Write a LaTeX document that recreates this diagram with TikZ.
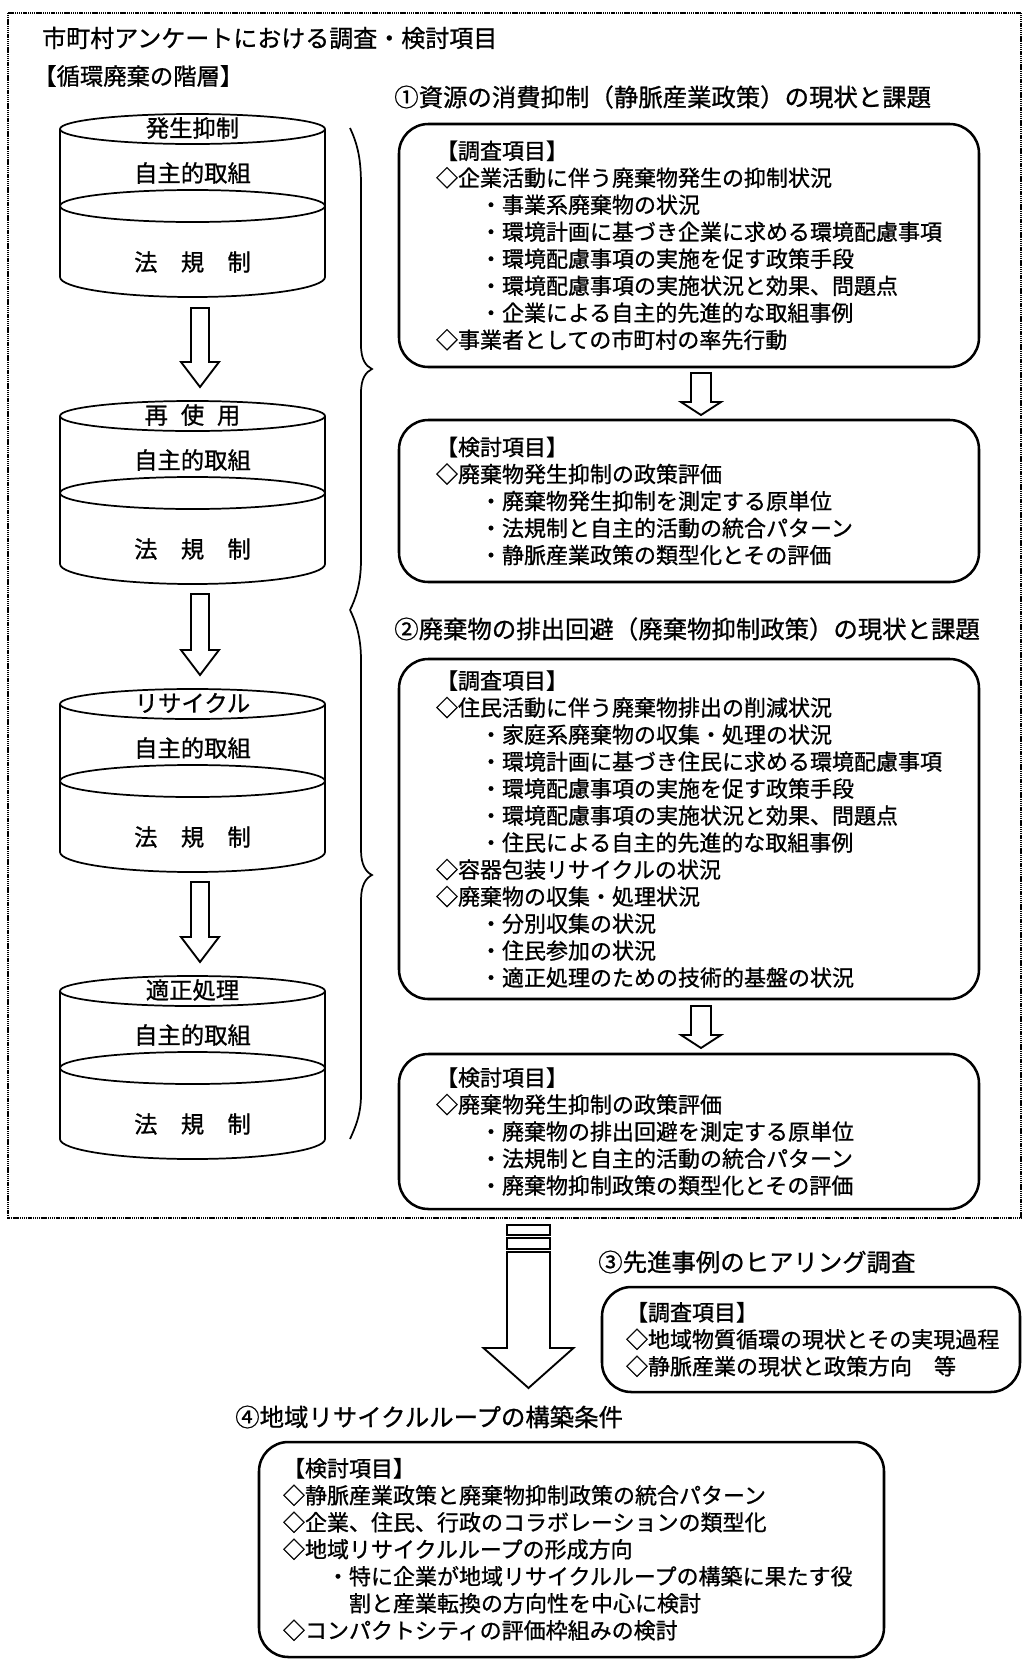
\documentclass[tikz,border=0pt]{standalone}
\usepackage{fontspec}
\setmainfont[FakeBold=0.9,AutoFakeBold=0.9]{Noto Sans CJK JP}
\newcommand{\myblockdn}[6]{%
  \draw[blk] ({#1-#5},#2) -- ({#1+#5},#2) -- ({#1+#5},#3) -- ({#1+#6},#3) -- (#1,#4) -- ({#1-#6},#3) -- ({#1-#5},#3) -- cycle;}
\begin{document}
\begin{tikzpicture}[x=0.75pt,y=-0.75pt,
  frame/.style={line width=0.9pt, dash pattern=on 0.9pt off 0.5pt},
  box/.style={draw, line width=1.9pt, rounded corners=22pt, inner sep=0pt},
  cylline/.style={line width=1.3pt},
  blk/.style={draw, line width=1.4pt, fill=white, line join=miter},
  hd/.style={font=\fontsize{18.3pt}{22pt}\selectfont\bfseries, inner sep=0pt, anchor=west},
  cyltxt/.style={font=\fontsize{17.5pt}{21pt}\selectfont\bfseries, inner sep=0pt},
  btxt/.style={font=\fontsize{16.5pt}{20.25pt}\selectfont\bfseries, inner sep=0pt, align=left, anchor=west},
  brace/.style={line width=1.3pt}
]
\useasboundingbox (0,0) rectangle (1025,1661);
\fill[white] (0,0) rectangle (1025,1661);

% outer dotted frame
\draw[frame] (8,13) rectangle (1021,1218);

% headings
\node[hd, font=\fontsize{18pt}{22pt}\selectfont\bfseries] (title) at (42,38) {市町村アンケートにおける調査・検討項目};
\node[hd, font=\fontsize{17.5pt}{21pt}\selectfont\bfseries] (hier) at (33,76) {【循環廃棄の階層】};
\node[hd] (h1) at (394,97) {①資源の消費抑制（静脈産業政策）の現状と課題};
\node[hd] (h2) at (394,629) {②廃棄物の排出回避（廃棄物抑制政策）の現状と課題};
\node[hd] (h3) at (598,1262) {③先進事例のヒアリング調査};
\node[hd] (h4) at (235,1417) {④地域リサイクルループの構築条件};

% cylinders
\foreach \T/\lab/\nm in {129/発生抑制/c1, 416/{再\hspace{0.55em}使\hspace{0.55em}用}/c2, 704/リサイクル/c3, 991/適正処理/c4} {
  \draw[cylline] (60,\T) -- (60,\T+148) arc[start angle=180,end angle=0,x radius=132.5,y radius=20] -- (325,\T);
  \draw[cylline] (192.5,\T) ellipse[x radius=132.5, y radius=15];
  \draw[cylline] (192.5,\T+77) ellipse[x radius=132.5, y radius=16];
  \node[cyltxt] (\nm-a) at (192.5,\T-1) {\lab};
  \node[cyltxt] (\nm-b) at (192.5,\T+44) {自主的取組};
  \node[cyltxt] (\nm-c) at (192.5,\T+133) {法\hspace{1em}規\hspace{1em}制};
}

% arrows between cylinders
\myblockdn{200}{308}{362}{387}{9}{19}
\myblockdn{200}{594}{650}{675}{9}{19}
\myblockdn{200}{882}{937}{962}{9}{19}

% braces
\draw[brace] (350,128) .. controls (358,145) and (361,160) .. (361,185) -- (361,345)
  .. controls (361,360) and (366,366) .. (372,369) .. controls (366,372) and (361,378) .. (361,393)
  -- (361,560) .. controls (361,585) and (355,600) .. (350,610);
\draw[brace] (350,610) .. controls (355,620) and (361,635) .. (361,660) -- (361,850)
  .. controls (361,865) and (366,872) .. (372,875) .. controls (366,878) and (361,885) .. (361,900)
  -- (361,1095) .. controls (361,1115) and (355,1128) .. (350,1139);

% boxes
\node[box, minimum width=435pt, minimum height=182.25pt] (b1) at (689,245.5) {};
\node[btxt] (b1t) at ([xshift=28.5pt]b1.west) {【調査項目】\\
◇企業活動に伴う廃棄物発生の抑制状況\\
\hspace*{2em}・事業系廃棄物の状況\\
\hspace*{2em}・環境計画に基づき企業に求める環境配慮事項\\
\hspace*{2em}・環境配慮事項の実施を促す政策手段\\
\hspace*{2em}・環境配慮事項の実施状況と効果、問題点\\
\hspace*{2em}・企業による自主的先進的な取組事例\\
◇事業者としての市町村の率先行動};

\node[box, minimum width=435pt, minimum height=121.5pt] (b2) at (689,501) {};
\node[btxt] (b2t) at ([xshift=28.5pt]b2.west) {【検討項目】\\
◇廃棄物発生抑制の政策評価\\
\hspace*{2em}・廃棄物発生抑制を測定する原単位\\
\hspace*{2em}・法規制と自主的活動の統合パターン\\
\hspace*{2em}・静脈産業政策の類型化とその評価};

\node[box, minimum width=435pt, minimum height=255pt] (b3) at (689,829) {};
\node[btxt] (b3t) at ([xshift=28.5pt]b3.west) {【調査項目】\\
◇住民活動に伴う廃棄物排出の削減状況\\
\hspace*{2em}・家庭系廃棄物の収集・処理の状況\\
\hspace*{2em}・環境計画に基づき住民に求める環境配慮事項\\
\hspace*{2em}・環境配慮事項の実施を促す政策手段\\
\hspace*{2em}・環境配慮事項の実施状況と効果、問題点\\
\hspace*{2em}・住民による自主的先進的な取組事例\\
◇容器包装リサイクルの状況\\
◇廃棄物の収集・処理状況\\
\hspace*{2em}・分別収集の状況\\
\hspace*{2em}・住民参加の状況\\
\hspace*{2em}・適正処理のための技術的基盤の状況};

\node[box, minimum width=435pt, minimum height=116.25pt] (b4) at (689,1131.5) {};
\node[btxt] (b4t) at ([xshift=28.5pt]b4.west) {【検討項目】\\
◇廃棄物発生抑制の政策評価\\
\hspace*{2em}・廃棄物の排出回避を測定する原単位\\
\hspace*{2em}・法規制と自主的活動の統合パターン\\
\hspace*{2em}・廃棄物抑制政策の類型化とその評価};

\node[box, minimum width=313.5pt, minimum height=78.75pt] (b5) at (811,1339.5) {};
\node[btxt] (b5t) at ([xshift=18.75pt]b5.west) {【調査項目】\\
◇地域物質循環の現状とその実現過程\\
◇静脈産業の現状と政策方向　等};

\node[box, minimum width=468.75pt, minimum height=161.25pt] (b6) at (571.5,1549.5) {};
\node[btxt] (b6t) at ([xshift=18.75pt]b6.west) {【検討項目】\\
◇静脈産業政策と廃棄物抑制政策の統合パターン\\
◇企業、住民、行政のコラボレーションの類型化\\
◇地域リサイクルループの形成方向\\
\hspace*{2em}・特に企業が地域リサイクルループの構築に果たす役\\
\hspace*{3em}割と産業転換の方向性を中心に検討\\
◇コンパクトシティの評価枠組みの検討};

% small arrows between boxes
\myblockdn{701}{373}{402}{415}{10}{20}
\myblockdn{701}{1006}{1035}{1048}{10}{20}

% big arrow
\draw[blk] (507,1225) rectangle (550,1235);
\draw[blk] (507,1238) rectangle (550,1249);
\myblockdn{528.5}{1252}{1348}{1388}{21.5}{45}
\end{tikzpicture}
\end{document}
